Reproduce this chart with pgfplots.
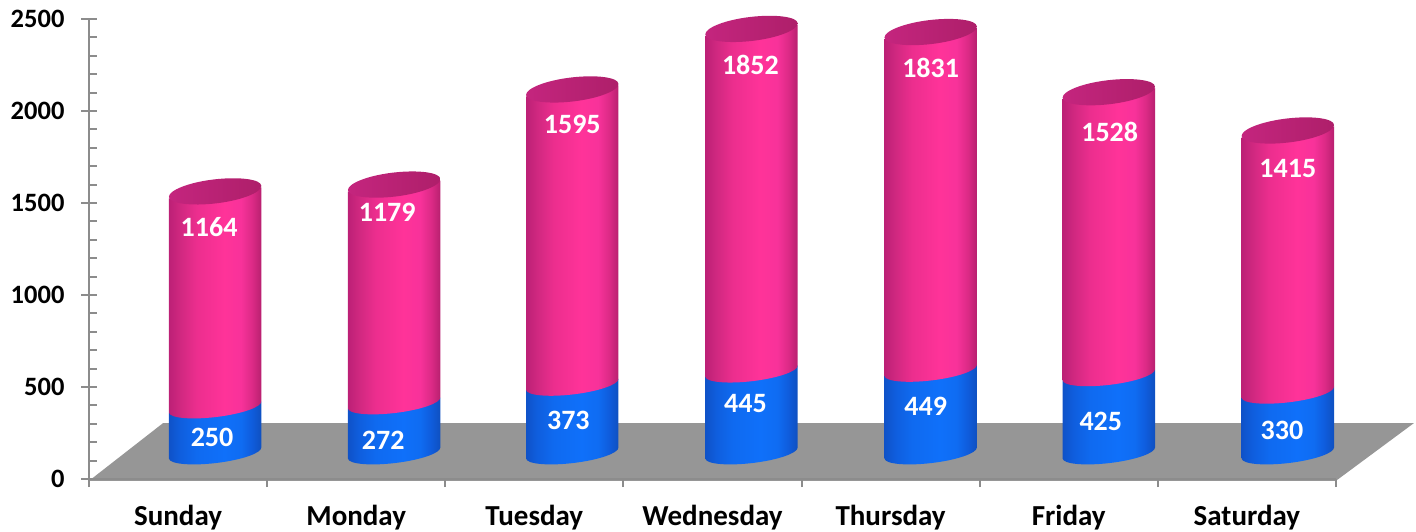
\documentclass[border=0pt]{standalone}
\usepackage{fontspec}
\setmainfont{Carlito}
\usepackage{pgfplots}
\usepackage{pgfplotstable}
\pgfplotsset{compat=1.18}
\definecolor{axgray}{HTML}{8C8C8C}
\definecolor{floorgray}{HTML}{969696}
\definecolor{capl}{HTML}{C4257E}
\definecolor{capr}{HTML}{AE1F6A}
\definecolor{pa}{HTML}{BC2076}
\definecolor{pb}{HTML}{D02880}
\definecolor{pc}{HTML}{EC2E8E}
\definecolor{pd}{HTML}{FF3399}
\definecolor{pe}{HTML}{F8329A}
\definecolor{pf}{HTML}{DC2A86}
\definecolor{pg}{HTML}{B8206F}
\definecolor{ba}{HTML}{0F52C8}
\definecolor{bb}{HTML}{0F5EDE}
\definecolor{bc}{HTML}{0F6AF0}
\definecolor{bd}{HTML}{0F70FA}
\definecolor{be}{HTML}{0F6CF2}
\definecolor{bf}{HTML}{0F5CDC}
\definecolor{bg}{HTML}{0F50C0}
\pgfdeclarehorizontalshading[pa,pb,pc,pd,pe,pf,pg]{pinkcyl}{100bp}{
  color(0bp)=(pa); color(25bp)=(pa); color(31bp)=(pb);
  color(40bp)=(pc); color(55bp)=(pd); color(64bp)=(pe);
  color(70bp)=(pf); color(75bp)=(pg); color(100bp)=(pg)}
\pgfdeclarehorizontalshading[ba,bb,bc,bd,be,bf,bg]{bluecyl}{100bp}{
  color(0bp)=(ba); color(25bp)=(ba); color(31bp)=(bb);
  color(40bp)=(bc); color(55bp)=(bd); color(64bp)=(be);
  color(70bp)=(bf); color(75bp)=(bg); color(100bp)=(bg)}
\pgfdeclareplotmark{nothing}{}
\pgfplotstableread{
x b blue pink
0.708 141 250 1164
1.713 141 272 1179
2.713 141 373 1595
3.719 141 445 1852
4.725 141 449 1831
5.725 141 425 1528
6.730 141 330 1415
}\cyl
\pgfplotstableread{
x y l
0.674 1370 1164
1.674 1451 1179
2.713 1929 1595
3.713 2250 1852
4.725 2234 1831
5.730 1886 1528
6.730 1685 1415
0.691 228 250
1.652 212 272
2.691 321 373
3.685 408 445
4.697 397 449
5.680 315 425
6.697 266 330
}\labs
\newcommand{\cylseg}[1]{%
  \shade[draw=none,x=1pt,y=1pt,shading=#1] (-46.2,-5.5) -- (-46.2,-5.5-\cylh)
    .. controls (-45.55,-10.98-\cylh) and (-24.32,-12.97-\cylh) .. (1.18,-9.93-\cylh)
    .. controls (26.68,-6.89-\cylh) and (46.2,-\cylh) .. (46.2,5.5-\cylh)
    -- (46.2,5.5) -- cycle;}
\newcommand{\cylcap}{%
  \shade[draw=none,x=1pt,y=1pt,left color=capl,right color=capr] (46.2,7)
    .. controls (46.2,13.58) and (24.08,16.46) .. (-1.42,13.42)
    .. controls (-26.92,10.38) and (-46.2,2.5) .. (-46.2,-4)
    .. controls (-46.2,-10.58) and (-24.08,-13.46) .. (1.42,-10.42)
    .. controls (26.92,-7.38) and (46.2,0.5) .. (46.2,7) -- cycle;}
\begin{document}
\begin{tikzpicture}
\path[use as bounding box] (0,0) rectangle (1416pt,531pt);
\begin{axis}[
  at={(89pt,52pt)}, anchor=south west,
  scale only axis, width=1247pt, height=460pt,
  xmin=0, xmax=7, ymin=0, ymax=2500, clip=false,
  axis lines=left, axis line style={-, draw=axgray, line width=2.5pt},
  axis on top,
  tick align=outside, tickwidth=8pt, subtickwidth=8pt,
  tick style={draw=axgray, line width=2pt},
  xtick={0,...,7},
  xticklabels={Sunday,Monday,Tuesday,Wednesday,Thursday,Friday,Saturday},
  x tick label as interval,
  ytick={0,500,...,2500},
  minor ytick={0,100,...,2500},
  minor y tick style={xshift=8pt},
  /pgf/number format/assume math mode=true,
  /pgf/number format/1000 sep={},
  ticklabel style={font=\fontsize{26.5}{30}\selectfont\bfseries, text=black},
  xticklabel style={font=\fontsize{29}{32}\selectfont\bfseries, anchor=base, yshift=-38pt},
  yticklabel style={xshift=-13pt},
]
\addplot[draw=none, fill=floorgray] coordinates {(0,-10) (7,-10) (7.438,304) (0.416,304)} -- cycle;
\addplot[stack plots=y, draw=none, mark=none, forget plot] table[x=x,y=b] {\cyl};
\addplot[stack plots=y, only marks, scatter, mark=nothing,
  visualization depends on={0.184*\thisrow{blue} \as \cylh},
  scatter/@pre marker code/.code={\scope\cylseg{bluecyl}},
  scatter/@post marker code/.code={\endscope}] table[x=x,y=blue] {\cyl};
\addplot[stack plots=y, only marks, scatter, mark=nothing,
  visualization depends on={0.184*\thisrow{pink} \as \cylh},
  scatter/@pre marker code/.code={\scope\cylseg{pinkcyl}\cylcap},
  scatter/@post marker code/.code={\endscope}] table[x=x,y=pink] {\cyl};
\addplot[stack plots=false, draw=none, mark=none, point meta=explicit symbolic,
  nodes near coords,
  every node near coord/.style={anchor=center, text=white, font=\fontsize{28}{30}\selectfont\bfseries, inner sep=0pt}]
  table[x=x,y=y,meta=l] {\labs};
\end{axis}
\end{tikzpicture}
\end{document}
